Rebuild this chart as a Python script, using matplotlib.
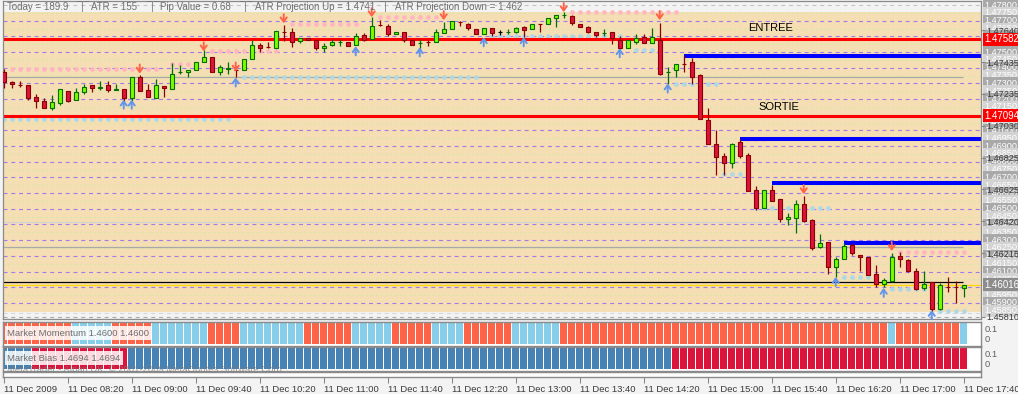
import numpy as np
import matplotlib
matplotlib.use("Agg")
import matplotlib.pyplot as plt
import matplotlib.transforms as mtransforms

plt.rcParams['font.family'] = ['Liberation Sans', 'DejaVu Sans']

# 5 min bars, 11 Dec 2009 07:40 -> 17:40
opens = [1.47376, 1.47306, 1.47293, 1.47293, 1.47216, 1.47190, 1.47145, 1.47177, 1.47254, 1.47196,
         1.47248, 1.47293, 1.47273, 1.47293, 1.47261, 1.47267, 1.47209, 1.47344, 1.47261, 1.47209,
         1.47286, 1.47267, 1.47370, 1.47370, 1.47383, 1.47434, 1.47466, 1.47376, 1.47395, 1.47385,
         1.47383, 1.47453, 1.47543, 1.47532, 1.47524, 1.47629, 1.47627, 1.47569, 1.47588, 1.47575,
         1.47524, 1.47543, 1.47562, 1.47562, 1.47543, 1.47607, 1.47582, 1.47674, 1.47665, 1.47614,
         1.47627, 1.47575, 1.47556, 1.47564, 1.47562, 1.47620, 1.47646, 1.47691, 1.47678, 1.47646,
         1.47614, 1.47652, 1.47627, 1.47627, 1.47627, 1.47659, 1.47646, 1.47680, 1.47678, 1.47716,
         1.47736, 1.47729, 1.47678, 1.47659, 1.47627, 1.47620, 1.47627, 1.47575, 1.47524, 1.47562,
         1.47594, 1.47556, 1.47575, 1.47370, 1.47383, 1.47423, 1.47434, 1.47351, 1.47066, 1.46913,
         1.46837, 1.46792, 1.46926, 1.46843, 1.46620, 1.46505, 1.46620, 1.46562, 1.46435, 1.46441,
         1.46530, 1.46428, 1.46256, 1.46288, 1.46129, 1.46180, 1.46269, 1.46205, 1.46192, 1.46084,
         1.46020, 1.46039, 1.46199, 1.46173, 1.46103, 1.45995, 1.46033, 1.45861, 1.46003, 1.46003,
         1.45995]
highs = [1.47395, 1.47318, 1.47318, 1.47293, 1.47235, 1.47209, 1.47229, 1.47267, 1.47254, 1.47273,
         1.47299, 1.47293, 1.47318, 1.47318, 1.47299, 1.47267, 1.47344, 1.47351, 1.47299, 1.47325,
         1.47286, 1.47428, 1.47415, 1.47383, 1.47434, 1.47511, 1.47466, 1.47415, 1.47434, 1.47408,
         1.47453, 1.47575, 1.47556, 1.47562, 1.47633, 1.47672, 1.47652, 1.47588, 1.47588, 1.47575,
         1.47556, 1.47582, 1.47582, 1.47562, 1.47620, 1.47620, 1.47723, 1.47704, 1.47678, 1.47627,
         1.47627, 1.47575, 1.47582, 1.47575, 1.47646, 1.47691, 1.47697, 1.47697, 1.47684, 1.47646,
         1.47652, 1.47652, 1.47639, 1.47646, 1.47659, 1.47665, 1.47678, 1.47680, 1.47716, 1.47736,
         1.47755, 1.47736, 1.47678, 1.47665, 1.47627, 1.47646, 1.47627, 1.47601, 1.47575, 1.47614,
         1.47614, 1.47652, 1.47684, 1.47402, 1.47421, 1.47484, 1.47460, 1.47363, 1.47143, 1.47003,
         1.46856, 1.46920, 1.46945, 1.46856, 1.46645, 1.46620, 1.46652, 1.46562, 1.46473, 1.46556,
         1.46582, 1.46435, 1.46339, 1.46288, 1.46192, 1.46282, 1.46282, 1.46205, 1.46192, 1.46141,
         1.46058, 1.46218, 1.46224, 1.46180, 1.46122, 1.46103, 1.46033, 1.46026, 1.46065, 1.46039,
         1.46016]
lows = [1.47273, 1.47273, 1.47280, 1.47196, 1.47145, 1.47145, 1.47132, 1.47164, 1.47184, 1.47196,
        1.47235, 1.47248, 1.47261, 1.47248, 1.47261, 1.47190, 1.47190, 1.47254, 1.47216, 1.47209,
        1.47216, 1.47267, 1.47363, 1.47344, 1.47383, 1.47434, 1.47370, 1.47351, 1.47357, 1.47338,
        1.47383, 1.47453, 1.47498, 1.47524, 1.47524, 1.47569, 1.47530, 1.47556, 1.47575, 1.47511,
        1.47498, 1.47537, 1.47537, 1.47537, 1.47543, 1.47569, 1.47582, 1.47665, 1.47601, 1.47614,
        1.47562, 1.47543, 1.47511, 1.47537, 1.47562, 1.47620, 1.47646, 1.47665, 1.47639, 1.47614,
        1.47614, 1.47601, 1.47607, 1.47614, 1.47620, 1.47594, 1.47646, 1.47627, 1.47678, 1.47659,
        1.47716, 1.47672, 1.47659, 1.47620, 1.47594, 1.47601, 1.47550, 1.47517, 1.47524, 1.47550,
        1.47556, 1.47556, 1.47351, 1.47299, 1.47344, 1.47370, 1.47299, 1.47073, 1.46913, 1.46716,
        1.46716, 1.46760, 1.46824, 1.46613, 1.46492, 1.46505, 1.46550, 1.46416, 1.46397, 1.46345,
        1.46416, 1.46237, 1.46250, 1.46084, 1.46065, 1.46180, 1.46205, 1.46103, 1.46078, 1.46001,
        1.46001, 1.46033, 1.46129, 1.46097, 1.45982, 1.45982, 1.45841, 1.45854, 1.45969, 1.45899,
        1.45937]
closes = [1.47306, 1.47299, 1.47291, 1.47209, 1.47190, 1.47145, 1.47184, 1.47267, 1.47190, 1.47248,
          1.47280, 1.47273, 1.47275, 1.47261, 1.47263, 1.47209, 1.47344, 1.47254, 1.47216, 1.47293,
          1.47273, 1.47363, 1.47372, 1.47383, 1.47434, 1.47466, 1.47376, 1.47402, 1.47397, 1.47383,
          1.47453, 1.47543, 1.47524, 1.47530, 1.47633, 1.47627, 1.47562, 1.47588, 1.47575, 1.47524,
          1.47537, 1.47562, 1.47564, 1.47537, 1.47601, 1.47575, 1.47665, 1.47672, 1.47614, 1.47627,
          1.47575, 1.47543, 1.47558, 1.47562, 1.47627, 1.47646, 1.47697, 1.47689, 1.47652, 1.47614,
          1.47652, 1.47620, 1.47627, 1.47629, 1.47652, 1.47639, 1.47678, 1.47678, 1.47716, 1.47736,
          1.47738, 1.47684, 1.47659, 1.47627, 1.47607, 1.47622, 1.47588, 1.47524, 1.47575, 1.47588,
          1.47556, 1.47594, 1.47357, 1.47372, 1.47421, 1.47421, 1.47344, 1.47073, 1.46913, 1.46830,
          1.46792, 1.46913, 1.46837, 1.46613, 1.46505, 1.46620, 1.46550, 1.46435, 1.46448, 1.46530,
          1.46422, 1.46250, 1.46282, 1.46129, 1.46180, 1.46263, 1.46218, 1.46192, 1.46078, 1.46020,
          1.46046, 1.46192, 1.46180, 1.46103, 1.45988, 1.46020, 1.45861, 1.46014, 1.46001, 1.46001,
          1.46016]

# indicator panels (1 = up colour, 0 = down colour)
momentum = [0, 0, 0, 0, 0, 0, 0, 0, 0, 1, 1, 1, 1, 1, 0, 0, 0, 0, 0, 1,
            1, 1, 1, 1, 1, 1, 0, 0, 0, 0, 1, 1, 1, 1, 1, 1, 1, 1, 0, 0,
            0, 0, 0, 0, 1, 1, 1, 1, 1, 0, 0, 0, 0, 0, 1, 1, 1, 1, 0, 0,
            0, 0, 0, 0, 1, 1, 1, 1, 1, 1, 0, 0, 0, 0, 0, 0, 0, 0, 0, 0,
            0, 0, 0, 0, 0, 0, 0, 0, 0, 0, 0, 0, 0, 0, 0, 0, 0, 0, 0, 0,
            0, 0, 0, 0, 0, 0, 0, 0, 0, 0, 0, 1, 0, 0, 0, 0, 0, 0, 0, 0,
            1]
bias = [1, 1, 1, 1, 0, 0, 0, 0, 0, 0, 0, 0, 0, 0, 0, 0, 1, 1, 1, 1,
        1, 1, 1, 1, 1, 1, 1, 1, 1, 1, 1, 1, 1, 1, 1, 1, 1, 1, 1, 1,
        1, 1, 1, 1, 1, 1, 1, 1, 1, 1, 1, 1, 1, 1, 1, 1, 1, 1, 1, 1,
        1, 1, 1, 1, 1, 1, 1, 1, 1, 1, 1, 1, 1, 1, 1, 1, 1, 1, 1, 1,
        1, 1, 1, 1, 0, 0, 0, 0, 0, 0, 0, 0, 0, 0, 0, 0, 0, 0, 0, 0,
        0, 0, 0, 0, 0, 0, 0, 0, 0, 0, 0, 0, 0, 0, 0, 0, 0, 0, 0, 0,
        0]

# levels
entree = 1.47582
sortie = 1.47094
bid = 1.46016
black_level = 1.46030
grey_solid = [1.47340, 1.46256]
grey_light = [1.46416]
blue_start = [85, 92, 96, 105]
blue_level = [1.47476, 1.46945, 1.46666, 1.46282]
purple_levels = [1.459, 1.460, 1.461, 1.462, 1.463, 1.464, 1.465, 1.466, 1.467, 1.468,
                 1.469, 1.470, 1.471, 1.472, 1.473, 1.474, 1.475, 1.476, 1.477]
green_levels = [1.4595, 1.4605, 1.4615, 1.4625, 1.4635, 1.4645, 1.4655, 1.4665, 1.4675, 1.4685,
                1.4695, 1.4705, 1.4715, 1.4725, 1.4735, 1.4745, 1.4755, 1.4765, 1.4775]
grey_dashed = [1.47800, 1.45837, 1.45810]
box_top, box_bottom = 1.47757, 1.45841

# resistance (pink) and support (light blue) dot rows: level, first bar, last bar
res_level = [1.47395, 1.47425, 1.47505, 1.47678, 1.47723, 1.47755, 1.47476, 1.46945, 1.46224]
res_from = [1, 21, 26, 36, 47, 71, 86, 93, 112]
res_to = [19, 23, 34, 44, 54, 84, 91, 95, 120]
sup_level = [1.47076, 1.47338, 1.47601, 1.47511, 1.47299, 1.46722, 1.46505, 1.46065, 1.45988, 1.45848]
sup_from = [0, 30, 61, 79, 84, 90, 94, 105, 111, 117]
sup_to = [28, 59, 77, 82, 89, 92, 103, 108, 115, 120]

sell_bars = [17, 25, 29, 35, 46, 55, 70, 82, 100, 111]
sell_tips = [1.47363, 1.47505, 1.47376, 1.47684, 1.47723, 1.47704, 1.47755, 1.47704, 1.46594, 1.46231]
buy_bars = [15, 16, 29, 44, 52, 60, 65, 77, 83, 104, 110, 116]
buy_tips = [1.47196, 1.47196, 1.47338, 1.47537, 1.47530, 1.47594, 1.47594, 1.47524, 1.47299,
            1.46065, 1.45995, 1.45854]

native_ticks = [1.47640, 1.47435, 1.47235, 1.47030, 1.46825, 1.46625, 1.46420, 1.46215, 1.45810]
line_labels = [1.4780, 1.4775, 1.4770, 1.4765, 1.4760, 1.4755, 1.4750, 1.4745, 1.4740, 1.4735,
               1.4730, 1.4725, 1.4720, 1.4715, 1.4710, 1.4705, 1.4700, 1.4695, 1.4690, 1.4685,
               1.4680, 1.4675, 1.4670, 1.4665, 1.4660, 1.4655, 1.4650, 1.4645, 1.4640, 1.4635,
               1.4630, 1.4625, 1.4620, 1.4615, 1.4610, 1.4605, 1.4600, 1.4595, 1.4590, 1.4585]

time_ticks = [0, 8, 16, 24, 32, 40, 48, 56, 64, 72, 80, 88, 96, 104, 112, 120]
time_labels = ["11 Dec 2009", "11 Dec 08:20", "11 Dec 09:00", "11 Dec 09:40", "11 Dec 10:20",
               "11 Dec 11:00", "11 Dec 11:40", "11 Dec 12:20", "11 Dec 13:00", "11 Dec 13:40",
               "11 Dec 14:20", "11 Dec 15:00", "11 Dec 15:40", "11 Dec 16:20", "11 Dec 17:00",
               "11 Dec 17:40"]

header = [("Today = 189.9", 7), ("\u00af|\u00af", 76), ("ATR = 155", 91), ("\u00af|\u00af", 146),
          ("Pip Value = 0.68", 160), ("\u00af|\u00af", 239), ("ATR Projection Up = 1.4741", 255),
          ("\u00af|\u00af", 379), ("ATR Projection Down = 1.462", 395)]

W, H = 1018, 394
BG = '#F3F3F3'
GRID = '#8A8A8A'
fig = plt.figure(figsize=(W / 100, H / 100), dpi=100, facecolor=BG)


def px_axes(x0, y0, x1, y1):
    return fig.add_axes([x0 / W, 1 - y1 / H, (x1 - x0) / W, (y1 - y0) / H])


ax = px_axes(2.5, 0.5, 981, 319)
axm = px_axes(2.5, 321.5, 981, 345.5)
axb = px_axes(2.5, 346.5, 981, 370.5)
axt = px_axes(2.5, 371.5, 981, 376.5)
XLIM = (-0.15, 122.16)

# --- main chart ---
ax.set_facecolor(BG)
ax.set_xlim(*XLIM)
ax.set_ylim(1.45797, 1.47829)
ax.set_axisbelow(False)

ax.axhspan(box_bottom, box_top, color='#F5DEB3', lw=0, zorder=0.5)
for lv in green_levels:
    ax.axhline(lv, color='#C8EE9C', lw=0.8, dashes=(1.3, 3.0), zorder=1)
for lv in purple_levels:
    ax.axhline(lv, color='#A07CE8', lw=0.8, dashes=(3.6, 3.4), zorder=1.1)
for lv, col in zip(grey_dashed, ['#C4C4C4', '#D8D8D8', '#A8A8A8']):
    ax.axhline(lv, color=col, lw=0.8, dashes=(3.6, 3.4), zorder=1.1)
ax.hlines(grey_solid, -0.2, 119.9, color='#A9A9A9', lw=0.9, zorder=1.2)
ax.hlines(grey_light, -0.2, 119.9, color='#D3D3D3', lw=0.9, zorder=1.2)
ax.hlines(black_level, -0.2, 119.9, color='black', lw=0.9, zorder=1.3)
ax.axhline(bid, color='#FFD700', lw=0.9, zorder=1.3)

for lv, k0, k1 in zip(res_level, res_from, res_to):
    kk = np.arange(k0, k1 + 1)
    ax.plot(kk, np.full(len(kk), lv), 'o', ms=3.4, color='#FFB6C1', mec='none', zorder=1.5)
for lv, k0, k1 in zip(sup_level, sup_from, sup_to):
    kk = np.arange(k0, k1 + 1)
    ax.plot(kk, np.full(len(kk), lv), 'o', ms=3.4, color='#ADD8E6', mec='none', zorder=1.5)

ax.axhline(entree, color='#FF0000', lw=2.2, zorder=2)
ax.axhline(sortie, color='#FF0000', lw=2.2, zorder=2)
for k0, lv in zip(blue_start, blue_level):
    ax.hlines(lv, k0, 130, color='#0000FF', lw=2.9, zorder=2.1)

ax.annotate('ENTREE', xy=(95.9, entree), xytext=(0, 4.5), textcoords='offset points',
            ha='center', va='bottom', fontsize=8, color='black', zorder=4)
ax.annotate('SORTIE', xy=(96.9, sortie), xytext=(0, 3), textcoords='offset points',
            ha='center', va='bottom', fontsize=8, color='black', zorder=4)

# candles
o = np.array(opens)
c = np.array(closes)
k = np.arange(len(o))
edge = np.where(c > o, '#007000', np.where(c < o, '#8B0000', 'black'))
fill = np.where(c > o, '#7CFC00', np.where(c < o, '#DC143C', 'black'))
ax.vlines(k, lows, highs, colors=edge, lw=0.9, zorder=3)
ax.bar(k, np.abs(c - o), bottom=np.minimum(o, c), width=0.55, color=fill,
       edgecolor=edge, linewidth=0.8, zorder=3.1)

for kb, tip in zip(sell_bars, sell_tips):
    ax.annotate('', xy=(kb, tip), xytext=(0, 6.5), textcoords='offset points',
                arrowprops=dict(arrowstyle='->,head_length=0.3,head_width=0.22', color='#FF6347',
                                lw=1.4, shrinkA=0, shrinkB=0), zorder=4)
for kb, tip in zip(buy_bars, buy_tips):
    ax.annotate('', xy=(kb, tip), xytext=(0, -6.5), textcoords='offset points',
                arrowprops=dict(arrowstyle='->,head_length=0.3,head_width=0.22', color='#6495ED',
                                lw=1.4, shrinkA=0, shrinkB=0), zorder=4)

# price scale
ax.yaxis.tick_right()
ax.set_yticks(native_ticks)
ax.set_yticklabels([f'{v:.5f}' for v in native_ticks])
ax.tick_params(axis='y', length=3, color=GRID, labelsize=6.6, labelcolor='#3A3A3A', pad=1.0)
ax.tick_params(axis='x', bottom=False, labelbottom=False)
trans = mtransforms.blended_transform_factory(ax.transAxes, ax.transData)
xlab = 1 + 3.5 / 978.5
for lv in line_labels:
    whole = abs(lv * 1000 - round(lv * 1000)) < 1e-6
    ax.text(xlab, lv, f'{lv:.5f}', transform=trans, ha='left', va='center', fontsize=6.6,
            color='white', clip_on=False, zorder=2,
            bbox=dict(boxstyle='square,pad=0.16', fc='#A9A9A9' if whole else '#D3D3D3', ec='none'))
for lv in (entree, sortie):
    ax.text(xlab, lv, f'{lv:.5f}', transform=trans, ha='left', va='center', fontsize=7,
            color='white', clip_on=False, zorder=5,
            bbox=dict(boxstyle='square,pad=0.14', fc='#FF0000', ec='none'))
ax.text(xlab, bid, f'{bid:.5f}', transform=trans, ha='left', va='center', fontsize=7,
        color='white', clip_on=False, zorder=5,
        bbox=dict(boxstyle='square,pad=0.17', fc='#8C8C8C', ec='none'))

for sp in ax.spines.values():
    sp.set_color(GRID)
    sp.set_linewidth(0.9)

for txt, xp in header:
    fig.text(xp / W, 1 - 7 / H, txt, ha='left', va='center', fontsize=7, color='#707070')

# --- indicator panels ---
for a, vals, cols, label in [
        (axm, momentum, ('#FF6347', '#87CEEB'), 'Market Momentum 1.4600 1.4600'),
        (axb, bias, ('#DC143C', '#4682B4'), 'Market Bias 1.4694 1.4694')]:
    a.set_facecolor('white')
    a.set_xlim(*XLIM)
    a.set_ylim(-0.07, 1.07)
    a.bar(np.arange(len(vals)), np.ones(len(vals)), width=0.87,
          color=[cols[v] for v in vals], lw=0)
    a.set_xticks([])
    a.set_yticks([])
    for sp in a.spines.values():
        sp.set_color(GRID)
        sp.set_linewidth(1.0)
    a.text(0.0045, 0.52, label, transform=a.transAxes, ha='left', va='center', fontsize=6.8,
           color='#6E6E6E', zorder=5,
           bbox=dict(boxstyle='square,pad=0.25', fc='white', ec='none', alpha=0.85))
    a.text(1.004, 0.66, '0.1', transform=a.transAxes, ha='left', va='center', fontsize=6.7,
           color='#606060', clip_on=False)
    a.text(1.004, 0.27, '0', transform=a.transAxes, ha='left', va='center', fontsize=6.7,
           color='#606060', clip_on=False)

axb.text(0.0045, 0.06, 'MetaTrader - Alpari UK, \u00a9 2001-2009 MetaQuotes Software Corp.',
         transform=axb.transAxes, ha='left', va='center', fontsize=6.8, color='#7A7A7A',
         alpha=0.75, clip_on=False, zorder=6)

axt.set_facecolor('white')
axt.set_xlim(*XLIM)
axt.set_yticks([])
axt.set_xticks(time_ticks)
axt.set_xticklabels(time_labels, ha='left')
axt.tick_params(axis='x', length=4, color=GRID, labelsize=6.8, labelcolor='#3A3A3A', pad=2)
for sp in axt.spines.values():
    sp.set_color(GRID)
    sp.set_linewidth(1.0)

fig.savefig('out.png', dpi=100, facecolor=BG)
